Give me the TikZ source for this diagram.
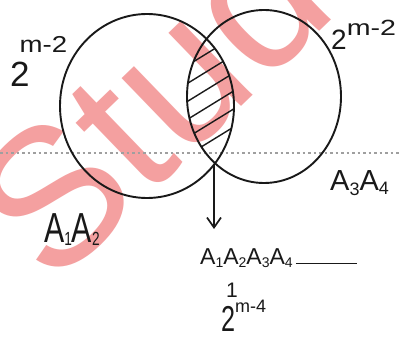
\documentclass[tikz,border=0pt]{standalone}
\usepackage{fontspec}
\setmainfont{Liberation Sans}
\usetikzlibrary{arrows.meta}
\definecolor{wmred}{RGB}{244,160,160}
\definecolor{ink}{RGB}{25,25,25}
\tikzset{
  ring/.style={line width=1.9pt, ink},
  hatch/.style={line width=1.4pt, ink},
  lbl/.style={inner sep=0pt, text=ink},
  watermark/.style={inner sep=0pt, text=wmred, font=\fontsize{195}{195}\selectfont},
  dotline/.style={gray!75, line width=1.1pt, dash pattern=on 2.5pt off 3pt},
  ptr/.style={line width=1.7pt, ink, -{Straight Barb[length=10pt,width=14pt,line width=1.7pt]}}
}
\newcommand{\fs}[1]{\fontsize{#1}{#1}\selectfont}
\newcommand{\lowsub}[3]{\raisebox{-#2}{\fs{#1}#3}}
\begin{document}
\begin{tikzpicture}[x=1pt,y=-1pt]
\useasboundingbox (0,0) rectangle (401,347);
\fill[white] (0,0) rectangle (401,347);
% watermark
\node[watermark, rotate=44, anchor=base west] (wm) at (52,290) {Stud};
% dotted guide
\coordinate (dl) at (0,153);
\coordinate (dr) at (401,153);
\draw[dotline] (dl) -- (dr);
% hatching of the overlap
\begin{scope}
  \clip (147,106) ellipse [x radius=87, y radius=92];
  \clip (264,96.5) ellipse [x radius=77, y radius=86.5];
  \foreach \k in {0,...,6} {
    \draw[hatch] (180,{52+\k*18}) -- (245,{52+\k*18-40});
  }
\end{scope}
% the two sets
\draw[ring] (147,106) ellipse [x radius=87, y radius=92];
\draw[ring] (264,96.5) ellipse [x radius=77, y radius=86.5];
% labels
\node[lbl, anchor=base west] (ltop) at (10,87) {\fs{35}2\kern-10pt\raisebox{34pt}{\scalebox{1.2}[1]{\fs{23}m-2}}};
\node[lbl, anchor=base west] (rtop) at (331,50) {\fs{28}2\raisebox{14pt}{\scalebox{1.3}[1]{\fs{22}m-2}}};
\node[lbl, anchor=base west] (lset) at (44,242) {\scalebox{0.72}[1]{\fs{42}A\lowsub{19}{3pt}{1}A\lowsub{19}{3pt}{2}}};
\node[lbl, anchor=base west] (rset) at (330,191) {\fs{29}A\lowsub{18}{5pt}{3}A\lowsub{18}{4pt}{4}};
\node[lbl, anchor=base west] (inter) at (200,264) {\fs{23}A\lowsub{14}{3pt}{1}A\lowsub{14}{3pt}{2}A\lowsub{14}{3pt}{3}A\lowsub{14}{3pt}{4}};
\coordinate (dashend) at (357,263);
\draw[line width=1pt, ink] (inter.base east) ++(3,-1) -- (dashend);
\node[lbl, anchor=base west] (one) at (226,297) {\fs{21}1};
\node[lbl, anchor=base west] (cnt) at (221,331) {\scalebox{0.7}[1]{\fs{36}2}\raisebox{19pt}{\fs{18}m-4}};
% arrow from the overlap
\coordinate (meet) at (214,164);
\coordinate (tip) at (214,229);
\draw[ptr] (meet) -- (tip);
\end{tikzpicture}
\end{document}
